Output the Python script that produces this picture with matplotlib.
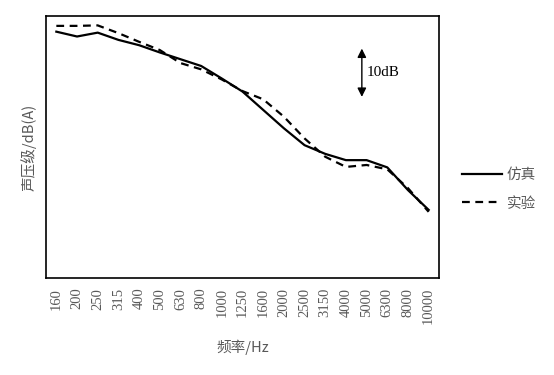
import numpy as np
import matplotlib.pyplot as plt
from matplotlib.lines import Line2D

# 1/3 octave band centre frequencies
freqs = ["160", "200", "250", "315", "400", "500", "630", "800", "1000", "1250",
         "1600", "2000", "2500", "3150", "4000", "5000", "6300", "8000", "10000"]

# relative sound pressure level, dB
sim_db = [51.0, 50.0, 50.8, 49.3, 48.2, 46.7, 45.3, 43.9, 41.3, 38.6,
          34.8, 31.0, 27.5, 25.7, 24.4, 24.4, 22.9, 18.2, 14.1]
exp_db = [52.2, 52.2, 52.3, 50.7, 48.9, 47.2, 44.5, 43.2, 41.1, 38.7,
          37.0, 33.4, 28.9, 25.1, 23.0, 23.4, 22.5, 18.6, 13.7]

scale_top = 47.5
scale_bottom = 37.5

gray = "#595959"
cjk = ["Noto Sans CJK SC", "DejaVu Sans"]

fig = plt.figure(figsize=(5.54, 3.75), dpi=100)
ax = fig.add_axes([46 / 554, 1 - 278 / 375, 393 / 554, 262 / 375])

x = np.arange(len(freqs))
ax.plot(x, sim_db, color="black", linewidth=1.6, label="仿真")
ax.plot(x, exp_db, color="black", linewidth=1.6, linestyle=(0, (3.5, 2.5)), label="实验")

ax.set_xlim(-0.5, len(freqs) - 0.5)
ax.set_ylim(0, 262 / 4.83)
ax.set_yticks([])
ax.set_xticks(x)
ax.set_xticklabels(freqs, rotation=90, family="Liberation Serif", fontsize=10.5, color=gray)
ax.tick_params(axis="x", length=0, pad=7)
for sp in ax.spines.values():
    sp.set_linewidth(1.2)

# 10 dB scale arrow
xa = 14.77
ax.annotate("", xy=(xa, scale_top), xytext=(xa, scale_bottom),
            arrowprops=dict(arrowstyle="<|-|>", color="black", lw=1.0,
                            mutation_scale=13, shrinkA=0, shrinkB=0))
ax.text(xa + 0.25, (scale_top + scale_bottom) / 2, "10dB", family="Liberation Serif",
        fontsize=11, va="center", ha="left", color="black")

ax.set_xlabel("频率/Hz", family=cjk, fontsize=10.5, color=gray)
ax.xaxis.set_label_coords(0.5, -(340 - 278) / 262)
ax.set_ylabel("声压级/dB(A)", family=cjk, fontsize=10.5, color=gray)
ax.yaxis.set_label_coords(-(46 - 37) / 393, 0.5)

handles = [Line2D([], [], color="black", linewidth=1.6),
           Line2D([], [], color="black", linewidth=1.6, linestyle=(0, (3.5, 2.5)))]
leg = fig.legend(handles, ["仿真", "实验"], loc="upper left",
                 bbox_to_anchor=(462 / 554, 1 - 168 / 375), frameon=False,
                 prop={"family": cjk, "size": 10.5}, handlelength=2.75,
                 handletextpad=0.3, labelspacing=1.0, borderpad=0, borderaxespad=0)
for t in leg.get_texts():
    t.set_color(gray)

fig.savefig("out.png", dpi=100)
